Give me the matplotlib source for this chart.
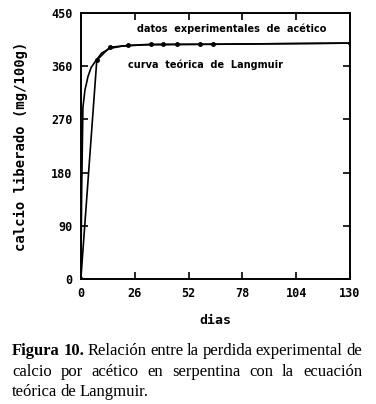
import matplotlib
matplotlib.use('Agg')
import matplotlib.pyplot as plt

expDays = [0, 7.7, 14, 22.7, 33.8, 39.6, 46.4, 57.5, 63.8, 130]
expCalcio = [0, 370, 392, 395, 397, 397, 397, 397, 397, 399]
langDays = [0, 0.4, 1, 2, 2.8, 3.4, 5, 7, 10, 14, 20, 30, 60, 130]
langCalcio = [0, 150, 290, 320, 332, 342, 358, 368, 382, 390, 394, 396, 397, 399]

xTicks = [0, 26, 52, 78, 104, 130]
yTicks = [0, 90, 180, 270, 360, 450]

# (text, bold, justified)
captionLines = [
    ([('Figura', True), ('10.', True), ('Relación', False), ('entre', False), ('la', False),
      ('perdida', False), ('experimental', False), ('de', False)], True),
    ([('calcio', False), ('por', False), ('acético', False), ('en', False), ('serpentina', False),
      ('con', False), ('la', False), ('ecuación', False)], True),
    ([('teórica', False), ('de', False), ('Langmuir.', False)], False),
]

fig = plt.figure(figsize=(3.76, 4.04), dpi=100)
ax = fig.add_axes([0.215, 0.309, 0.716, 0.659])

ax.plot(expDays, expCalcio, color='black', linewidth=1.2, marker='o', markersize=2.5)
ax.plot(langDays, langCalcio, color='black', linewidth=1.2)

ax.set_xlim(0, 130)
ax.set_ylim(0, 450)
ax.set_xticks(xTicks)
ax.set_yticks(yTicks)
ax.tick_params(direction='in', length=5, width=1.2, top=True, right=True, pad=6)
for lbl in ax.get_xticklabels() + ax.get_yticklabels():
    lbl.set_fontfamily('DejaVu Sans Mono')
    lbl.set_fontweight('bold')
    lbl.set_fontsize(8.5)
for s in ax.spines.values():
    s.set_linewidth(1.4)

ax.set_xlabel('dias', fontfamily='DejaVu Sans Mono', fontweight='bold', fontsize=9.5, labelpad=10)
ax.set_ylabel('calcio liberado (mg/100g)', fontfamily='DejaVu Sans Mono', fontweight='bold',
              fontsize=10, labelpad=17)

ax.text(27, 423, 'datos  experimentales  de  acético', fontsize=7, fontweight='bold',
        va='center', ha='left')
ax.text(23, 362, 'curva  teórica  de  Langmuir', fontsize=7, fontweight='bold',
        va='center', ha='left')

# caption, justified between x=12 and x=362 px
fig.canvas.draw()
W = fig.bbox.width
left, right = 12, 362
y0 = 1 - 351 / 404
for i, (words, justify) in enumerate(captionLines):
    y = y0 - i * 20.5 / 404
    texts = []
    for w, b in words:
        t = fig.text(0, y, w, fontfamily='Liberation Serif', fontweight='bold' if b else 'normal',
                     fontsize=12, va='center', ha='left')
        texts.append(t)
    fig.canvas.draw()
    widths = [t.get_window_extent().width for t in texts]
    if justify:
        gap = (right - left - sum(widths)) / (len(texts) - 1)
    else:
        gap = 3.5
    x = left
    for t, w in zip(texts, widths):
        t.set_x(x / W)
        x += w + gap

fig.savefig('out.png', dpi=100)
